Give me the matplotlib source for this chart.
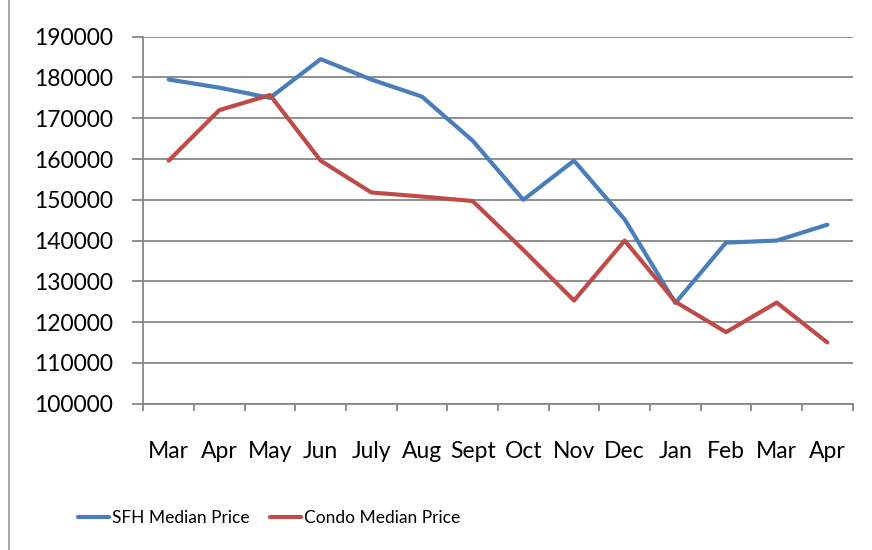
import matplotlib
matplotlib.use("Agg")
import matplotlib.pyplot as plt
from matplotlib.lines import Line2D

months = ["Mar", "Apr", "May", "Jun", "July", "Aug", "Sept", "Oct", "Nov", "Dec", "Jan", "Feb", "Mar", "Apr"]
sfh = [179500, 177500, 175000, 184500, 179500, 175300, 164500, 150000, 159600, 145200, 124700, 139500, 140000, 143900]
condo = [159600, 172000, 175700, 159600, 151800, 150800, 149700, 137700, 125300, 140000, 125000, 117550, 124800, 115000]
yticks = [100000, 110000, 120000, 130000, 140000, 150000, 160000, 170000, 180000, 190000]

plt.rcParams['font.family'] = ['Lato', 'DejaVu Sans']

fig = plt.figure(figsize=(8.72, 5.5), dpi=100)
ax = fig.add_axes([143.3/872, 1-403.7/550, (852.7-143.3)/872, (403.7-36.7)/550])

blue = "#4A7EBB"
red = "#BE4B48"
grid = "#868686"

x = list(range(len(months)))
ax.plot(x, sfh, color=blue, lw=3.0, solid_joinstyle='round', solid_capstyle='round', label="SFH Median Price", zorder=3)
ax.plot(x, condo, color=red, lw=3.0, solid_joinstyle='round', solid_capstyle='round', label="Condo Median Price", zorder=3)

ax.set_xlim(-0.5, len(months)-0.5)
ax.set_ylim(100000, 190000)
ax.set_yticks(yticks)
ax.set_yticklabels([str(v) for v in yticks])
ax.yaxis.grid(True, color=grid, lw=1.3)
ax.set_axisbelow(True)

ax.set_xticks(x)
ax.set_xticklabels(months)
ax.set_xticks([i - 0.5 for i in range(len(months)+1)], minor=True)
ax.tick_params(axis='x', which='major', length=0, pad=27, labelsize=16.5)
ax.tick_params(axis='x', which='minor', length=5, width=1.3, color=grid, direction='out')
ax.tick_params(axis='y', length=8, width=1.3, color=grid, pad=14, labelsize=16.5)

for s in ['top', 'right']:
    ax.spines[s].set_visible(False)
for s in ['left', 'bottom']:
    ax.spines[s].set_color(grid)
    ax.spines[s].set_linewidth(1.3)

# outer chart border (left edge visible)
fig.add_artist(Line2D([8.5/872, 8.5/872], [0, 1], color="#A0A0A0", lw=1.3))

handles = [Line2D([], [], color=blue, lw=3.0, solid_capstyle='round'),
           Line2D([], [], color=red, lw=3.0, solid_capstyle='round')]
fig.legend(handles, ["SFH Median Price", "Condo Median Price"], loc='center',
           bbox_to_anchor=(269/872, 1-518/550), ncol=2, frameon=False,
           prop={'family': ['Lato'], 'size': 12.5},
           handlelength=1.8, handletextpad=0.15, columnspacing=1.2)

fig.savefig("out.png", dpi=100)
